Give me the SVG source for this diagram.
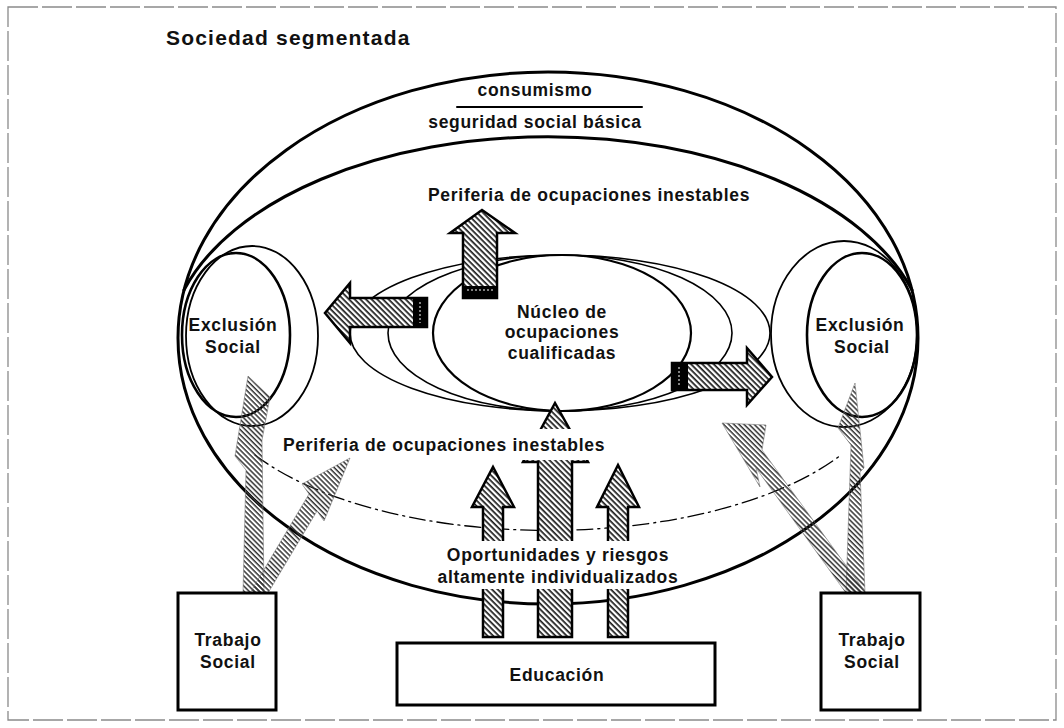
<svg xmlns="http://www.w3.org/2000/svg" width="1064" height="728" viewBox="0 0 1064 728">
  <defs>
    <!-- dense diagonal hatching for the outlined arrows -->
    <pattern id="hatchDark" width="4" height="4" patternUnits="userSpaceOnUse" patternTransform="rotate(45)">
      <rect width="4" height="4" fill="#fff"/>
      <rect width="4" height="1.7" fill="#1a1a1a"/>
    </pattern>
    <!-- hatching for the free-hand arrows -->
    <pattern id="hatchLight" width="3.6" height="3.6" patternUnits="userSpaceOnUse" patternTransform="rotate(45)">
      <rect width="3.6" height="1.5" fill="#333"/>
    </pattern>
    <style>
      .t { font-family: "Liberation Sans", Arial, Helvetica, sans-serif; font-weight: bold; font-size: 17.5px; letter-spacing: 0.7px; fill: #111; text-anchor: middle; }
      .ts { text-anchor: start; }
      .title { font-family: "Liberation Sans", Arial, Helvetica, sans-serif; font-weight: bold; font-size: 21px; letter-spacing: 1.2px; fill: #111; }
      .ln { fill: none; stroke: #000; stroke-linecap: round; }
      .box { fill: #fff; stroke: #000; stroke-width: 3; }
      .arrow { fill: url(#hatchDark); stroke: #000; stroke-width: 2.5; stroke-linejoin: miter; }
      .brush { fill: url(#hatchLight); stroke: #777; stroke-width: 0.6; }
    </style>
  </defs>

  <!-- page frame -->
  <rect x="8" y="7" width="1048" height="713" fill="#fff" stroke="#8a8a8a" stroke-width="1.3" stroke-dasharray="30 4"/>

  <text class="title" x="166" y="45">Sociedad segmentada</text>

  <!-- society rings -->
  <g id="society">
    <ellipse class="ln" cx="548" cy="338" rx="370" ry="266" stroke-width="3"/>
    <path class="ln" d="M184,290 A380,215 0 0 1 912,290" stroke-width="3"/>
    <path class="ln" d="M255,455 A340,153 0 0 0 841,455" stroke-width="1.3" stroke-dasharray="16 5 2 5"/>
    <line class="ln" x1="457" y1="107" x2="642" y2="107" stroke-width="2"/>
    <text class="t" x="535" y="96">consumismo</text>
    <text class="t" x="535" y="128">seguridad social básica</text>
  </g>

  <!-- exclusion pockets -->
  <g id="exclusion-left">
    <ellipse class="ln" cx="252" cy="336" rx="66" ry="90" stroke-width="1.8"/>
    <ellipse class="ln" cx="236" cy="335" rx="54" ry="82" stroke-width="2.6"/>
    <text class="t" x="233" y="331">Exclusión</text>
    <text class="t" x="233" y="353">Social</text>
  </g>
  <g id="exclusion-right">
    <ellipse class="ln" cx="844" cy="334" rx="73" ry="93" stroke-width="1.8"/>
    <ellipse class="ln" cx="862" cy="335" rx="55" ry="82" stroke-width="2.6"/>
    <text class="t" x="860" y="331">Exclusión</text>
    <text class="t" x="862" y="353">Social</text>
  </g>

  <!-- qualified core with its layers -->
  <g id="core">
    <ellipse class="ln" cx="560" cy="333" rx="210" ry="78" stroke-width="1.6"/>
    <ellipse class="ln" cx="560" cy="333" rx="172" ry="78" stroke-width="1.6"/>
    <ellipse class="ln" cx="562" cy="333" rx="129" ry="78" stroke-width="2.2"/>
    <text class="t" x="562" y="318">Núcleo de</text>
    <text class="t" x="562" y="338">ocupaciones</text>
    <text class="t" x="562" y="359">cualificadas</text>
  </g>

  <text class="t ts" x="428" y="201">Periferia de ocupaciones inestables</text>

  <!-- connectors -->
  <g id="connectors">
    <!-- core outwards -->
    <path class="arrow" d="M463,298 L463,233 L450,233 L482,210 L515,233 L497,233 L497,298 Z"/>
    <rect x="463" y="286" width="34" height="12" fill="#000"/>
    <line x1="467" y1="290" x2="493" y2="290" stroke="#fff" stroke-width="1" stroke-dasharray="2 2"/>

    <path class="arrow" d="M427,298 L350,298 L350,283 L325,313 L350,343 L350,327 L427,327 Z"/>
    <rect x="413" y="298" width="14" height="29" fill="#000"/>
    <line x1="420" y1="302" x2="420" y2="323" stroke="#fff" stroke-width="1" stroke-dasharray="2 2"/>

    <path class="arrow" d="M672,363 L747,363 L747,348 L772,377 L747,405 L747,390 L672,390 Z"/>
    <rect x="672" y="363" width="16" height="27" fill="#000"/>
    <line x1="679" y1="367" x2="679" y2="386" stroke="#fff" stroke-width="1" stroke-dasharray="2 2"/>

    <!-- education upwards -->
    <path class="arrow" d="M483,637 L483,507 L472,507 L493,467 L514,507 L503,507 L503,637 Z"/>
    <path class="arrow" d="M608,637 L608,507 L597,507 L618,465 L639,507 L628,507 L628,637 Z"/>
    <path class="arrow" d="M538,637 L538,462 L523,462 L555,403 L588,462 L572,462 L572,637 Z"/>

    <!-- social work arrows -->
    <path class="brush" d="M248,376 L270,397 L262,440 L264,593 L243,593 L246,470 L235,456 Z"/>
    <path class="brush" d="M350,458 L324,521 L317,511 L268,593 L250,593 L309,494 L302,484 Z"/>
    <path class="brush" d="M855,383 L864,468 L860,472 L865,593 L846,593 L851,445 L838,428 Z"/>
    <path class="brush" d="M722,423 L766,425 L762,450 L866,593 L846,593 L756,468 L760,487 Z"/>
  </g>

  <!-- label bands over the arrow shafts -->
  <rect x="519" y="429" width="74" height="31" fill="#fff"/>
  <text class="t ts" x="283" y="451">Periferia de ocupaciones inestables</text>
  <rect x="474" y="541" width="168" height="48" fill="#fff"/>
  <text class="t" x="558" y="561">Oportunidades y riesgos</text>
  <text class="t" x="558" y="583">altamente individualizados</text>

  <g id="trabajo-left">
    <rect class="box" x="178" y="593" width="98" height="117"/>
    <text class="t" x="228" y="646">Trabajo</text>
    <text class="t" x="228" y="668">Social</text>
  </g>
  <g id="trabajo-right">
    <rect class="box" x="821" y="593" width="99" height="117"/>
    <text class="t" x="872" y="646">Trabajo</text>
    <text class="t" x="872" y="668">Social</text>
  </g>
  <g id="educacion">
    <rect class="box" x="397" y="643" width="318" height="62"/>
    <text class="t" x="557" y="681">Educación</text>
  </g>
</svg>
